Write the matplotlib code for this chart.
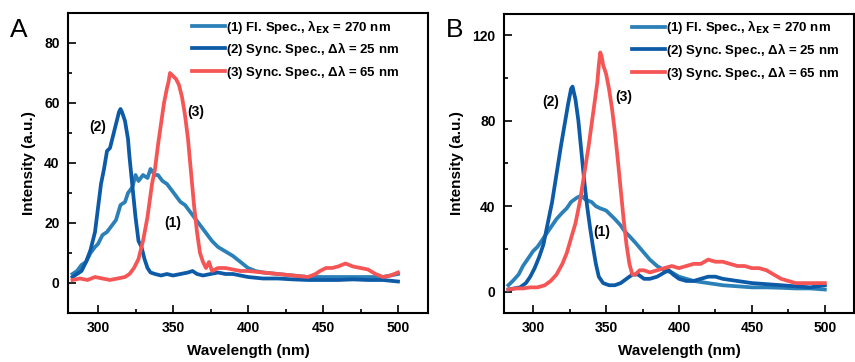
import matplotlib
matplotlib.use('Agg')
import matplotlib.pyplot as plt
from matplotlib.ticker import MultipleLocator

plt.rcParams['font.family'] = ['Liberation Sans', 'DejaVu Sans']
plt.rcParams['font.weight'] = 'bold'
plt.rcParams['mathtext.default'] = 'regular'

labels = [r'(1) Fl. Spec., $\lambda_{\rm EX}$ = 270 nm',
          r'(2) Sync. Spec., $\Delta\lambda$ = 25 nm',
          r'(3) Sync. Spec., $\Delta\lambda$ = 65 nm']
colors = ['#2b80b8', '#0d5aa7', '#f55555']

# ---- panel A ----
a1_x = [283, 286, 289, 292, 295, 298, 300, 303, 306, 309, 312, 315, 318, 320, 323, 325, 327, 330, 333, 335,
        338, 340, 343, 346, 349, 352, 355, 358, 361, 364, 367, 370, 373, 376, 380, 385, 390, 395, 400, 405,
        410, 420, 430, 440, 450, 460, 470, 480, 490, 495, 500]
a1_y = [3, 4, 6, 7, 10, 12, 13, 16, 17, 19, 21, 26, 27, 30, 32, 36, 34, 36, 35, 38,
        36, 36, 34, 33, 31, 29, 27, 26, 24, 22, 20, 18, 16, 14, 12, 10.5, 9, 7, 5, 4,
        3.5, 3, 2.5, 2, 2, 2, 2, 2, 2, 2.5, 3]
a2_x = [283, 286, 289, 292, 295, 298, 300, 302, 304, 306, 308, 310, 312, 314, 315, 316, 318, 320, 321, 323,
        325, 327, 329, 331, 333, 335, 338, 342, 346, 350, 355, 360, 363, 366, 370, 375, 380, 385, 390, 395,
        400, 410, 420, 430, 440, 450, 460, 470, 480, 490, 500]
a2_y = [2, 3, 4, 7, 11, 17, 25, 33, 38, 44, 45, 49, 53, 57, 58, 57, 54, 48, 42, 32,
        22, 14, 12, 8, 5, 3.5, 3, 2.5, 3, 2.5, 3, 3.5, 4, 3, 2.5, 3, 3.5, 3, 3, 2.5,
        2, 1.5, 1.5, 1.2, 1, 1, 1, 1.2, 1, 1, 0.5]
a3_x = [283, 288, 293, 298, 303, 308, 313, 318, 321, 324, 327, 330, 333, 336, 338, 340, 342, 344, 346, 347,
        348, 350, 352, 354, 356, 358, 360, 362, 364, 366, 368, 370, 372, 374, 376, 380, 385, 390, 395, 400,
        410, 420, 430, 440, 445, 448, 452, 456, 460, 465, 470, 475, 480, 485, 490, 495, 500]
a3_y = [1, 1.5, 1, 2, 1.5, 1, 1.5, 2, 3, 5, 8, 14, 22, 33, 38, 46, 53, 60, 65, 67,
        70, 69, 68, 66, 62, 56, 48, 37, 26, 17, 10, 7, 5, 7, 4, 5, 5, 4.5, 4, 4,
        3.5, 3, 2.5, 2, 3, 4, 5, 5, 5.5, 6.5, 5.5, 5, 4.5, 3, 2, 2.5, 3.5]

# ---- panel B ----
b1_x = [283, 286, 290, 293, 296, 300, 303, 306, 310, 313, 316, 320, 323, 326, 330, 333, 336, 340, 343, 346,
        350, 353, 356, 360, 363, 366, 370, 375, 380, 385, 390, 395, 400, 405, 410, 420, 430, 440, 450, 460,
        470, 480, 490, 500]
b1_y = [3, 5, 8, 12, 15, 19, 21, 24, 28, 31, 34, 37, 39, 42, 44, 45, 43, 42, 40, 39,
        38, 36, 34, 31, 28, 26, 23, 19, 15, 12, 10, 9, 7, 6, 5, 4, 3, 2.5, 2, 2,
        1.8, 1.5, 1.5, 1]
b2_x = [283, 287, 291, 295, 298, 301, 304, 307, 310, 313, 316, 319, 322, 324, 326, 327, 329, 331, 333, 335,
        337, 339, 341, 343, 345, 348, 352, 356, 360, 364, 368, 372, 376, 380, 385, 390, 393, 396, 400, 405,
        410, 415, 420, 425, 430, 440, 450, 460, 470, 480, 490, 500]
b2_y = [1, 1.5, 2, 4, 7, 11, 16, 22, 32, 42, 55, 68, 80, 88, 95, 96, 90, 80, 66, 52,
        40, 30, 21, 13, 7, 4, 3, 3, 4, 6, 8, 8, 6, 6, 7, 9, 10, 8, 6, 5,
        5, 6, 7, 7, 6, 5, 4, 3.5, 3, 2.5, 2, 3]
b3_x = [283, 288, 293, 298, 303, 308, 312, 316, 320, 323, 326, 329, 332, 335, 338, 340, 342, 344, 345, 346,
        347, 348, 350, 352, 354, 356, 358, 360, 362, 364, 366, 368, 370, 373, 376, 380, 385, 390, 395, 400,
        405, 410, 415, 420, 425, 430, 435, 440, 445, 450, 455, 460, 465, 470, 475, 480, 490, 500]
b3_y = [1, 1.5, 1.5, 2, 2, 3, 5, 8, 13, 18, 25, 32, 42, 55, 68, 78, 88, 98, 106, 112,
        110, 106, 102, 95, 86, 75, 62, 48, 34, 22, 13, 8, 8, 10, 10, 9, 10, 11, 12, 11,
        12, 13, 13, 15, 14, 14, 13, 12, 12, 11, 11, 10, 8, 6, 5, 4, 4, 4]

fig = plt.figure(figsize=(8.55, 3.62), dpi=100)
axA = fig.add_axes([68 / 855, 1 - 313 / 362, 360 / 855, 300 / 362])
axB = fig.add_axes([504 / 855, 1 - 313 / 362, 350 / 855, 299 / 362])


def style(ax, ylim, ymaj):
    ax.set_xlim(280, 520)
    ax.set_ylim(*ylim)
    ax.xaxis.set_major_locator(MultipleLocator(50))
    ax.xaxis.set_minor_locator(MultipleLocator(25))
    ax.yaxis.set_major_locator(MultipleLocator(ymaj))
    ax.yaxis.set_minor_locator(MultipleLocator(ymaj / 2))
    ax.tick_params(which='both', direction='in', top=False, right=False, labelsize=10, pad=6)
    ax.tick_params(which='major', length=6, width=1.2)
    ax.tick_params(which='minor', length=3, width=1.2)
    for s in ax.spines.values():
        s.set_linewidth(1.5)
    ax.set_xlabel('Wavelength (nm)', fontsize=11, fontweight='bold', labelpad=6)
    ax.set_ylabel('Intensity (a.u.)', fontsize=11, fontweight='bold', labelpad=6)


lw = 2.7
axA.plot(a1_x, a1_y, color=colors[0], lw=lw, label=labels[0])
axA.plot(a2_x, a2_y, color=colors[1], lw=lw, label=labels[1])
axA.plot(a3_x, a3_y, color=colors[2], lw=lw, label=labels[2])
style(axA, (-10, 90), 20)
axA.text(300, 52, '(2)', fontsize=10, fontweight='bold', ha='center', va='center')
axA.text(365, 57, '(3)', fontsize=10, fontweight='bold', ha='center', va='center')
axA.text(350, 20, '(1)', fontsize=10, fontweight='bold', ha='center', va='center')

axB.plot(b1_x, b1_y, color=colors[0], lw=lw, label=labels[0])
axB.plot(b2_x, b2_y, color=colors[1], lw=lw, label=labels[1])
axB.plot(b3_x, b3_y, color=colors[2], lw=lw, label=labels[2])
style(axB, (-10, 130), 40)
axB.text(312, 89, '(2)', fontsize=10, fontweight='bold', ha='center', va='center')
axB.text(362, 91, '(3)', fontsize=10, fontweight='bold', ha='center', va='center')
axB.text(347, 28, '(1)', fontsize=10, fontweight='bold', ha='center', va='center')

for ax, x0 in ((axA, 0.344), (axB, 0.366)):
    ax.legend(loc='upper left', bbox_to_anchor=(x0, 0.985), frameon=False,
              handlelength=2.5, handletextpad=0.1, labelspacing=0.35,
              borderaxespad=0, borderpad=0,
              prop={'weight': 'bold', 'size': 9.5})

fig.text(10 / 855, 1 - 30 / 362, 'A', fontsize=19, fontweight='normal', ha='left', va='center')
fig.text(446 / 855, 1 - 30 / 362, 'B', fontsize=19, fontweight='normal', ha='left', va='center')

fig.savefig('out.png', dpi=100)
